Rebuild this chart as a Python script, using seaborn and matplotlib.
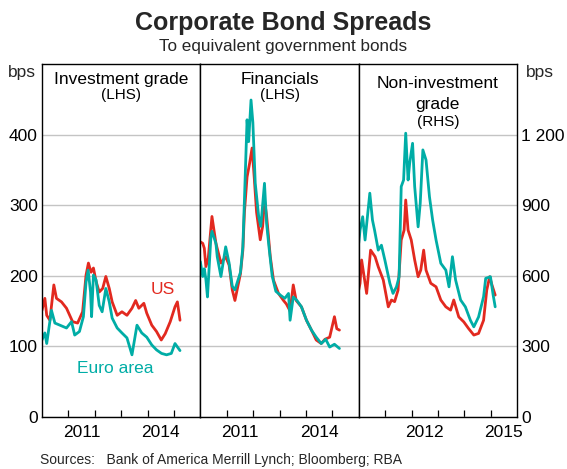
import matplotlib
matplotlib.use("Agg")
import matplotlib.pyplot as plt
import seaborn as sns

sns.set_theme(style="white")
plt.rcParams["font.family"] = ["Liberation Sans", "DejaVu Sans"]

RED = "#E2291F"
TEAL = "#00ADA6"

# Investment grade (LHS, bps)
ig_us_t = [2010.0, 2010.11, 2010.18, 2010.30, 2010.45, 2010.55, 2010.74, 2010.93,
           2011.16, 2011.35, 2011.54, 2011.67, 2011.76, 2011.86, 2011.95, 2012.05,
           2012.17, 2012.30, 2012.42, 2012.55, 2012.66, 2012.85, 2013.03, 2013.22,
           2013.41, 2013.55, 2013.67, 2013.86, 2013.97, 2014.16, 2014.34, 2014.52,
           2014.67, 2014.86, 2015.04, 2015.13, 2015.23]
ig_us = [151, 168, 144, 137, 187, 168, 163, 154,
         135, 133, 149, 201, 218, 205, 211, 192,
         177, 182, 199, 182, 163, 144, 149, 144,
         154, 165, 154, 161, 147, 130, 121, 109,
         118, 135, 156, 163, 137]
ig_eu_t = [2010.0, 2010.11, 2010.18, 2010.36, 2010.49, 2010.68, 2010.93, 2011.12,
           2011.24, 2011.42, 2011.57, 2011.67, 2011.75, 2011.84, 2011.88, 2011.95,
           2012.05, 2012.17, 2012.28, 2012.42, 2012.55, 2012.66, 2012.85, 2013.03,
           2013.22, 2013.41, 2013.60, 2013.78, 2013.97, 2014.16, 2014.34, 2014.53,
           2014.72, 2014.90, 2015.04, 2015.23]
ig_eu = [109, 119, 104, 151, 133, 130, 126, 135,
         116, 121, 142, 191, 208, 177, 142, 201,
         194, 158, 149, 182, 163, 140, 126, 119,
         112, 88, 130, 119, 113, 102, 95, 90,
         88, 90, 104, 94]

# Financials (LHS, bps)
fin_us_t = [2010.0, 2010.09, 2010.15, 2010.21, 2010.30, 2010.44, 2010.59, 2010.78,
            2010.96, 2011.09, 2011.21, 2011.31, 2011.52, 2011.61, 2011.67, 2011.77,
            2011.87, 2011.96, 2012.04, 2012.13, 2012.27, 2012.36, 2012.43, 2012.51,
            2012.65, 2012.77, 2012.96, 2013.15, 2013.26, 2013.40, 2013.52, 2013.63,
            2013.83, 2014.02, 2014.21, 2014.39, 2014.58, 2014.72, 2014.90, 2015.08,
            2015.17, 2015.27]
fin_us = [248, 246, 239, 213, 225, 284, 246, 218,
          227, 215, 180, 165, 203, 236, 290, 340,
          360, 381, 340, 290, 251, 270, 307, 285,
          227, 194, 175, 165, 160, 150, 187, 165,
          156, 137, 123, 109, 104, 110, 113, 142,
          125, 123]
fin_eu_t = [2010.0, 2010.09, 2010.15, 2010.21, 2010.27, 2010.40, 2010.44, 2010.59,
            2010.64, 2010.78, 2010.96, 2011.09, 2011.21, 2011.31, 2011.52, 2011.61,
            2011.67, 2011.77, 2011.83, 2011.92, 2011.99, 2012.08, 2012.21, 2012.29,
            2012.43, 2012.51, 2012.60, 2012.72, 2012.86, 2013.05, 2013.20, 2013.34,
            2013.40, 2013.52, 2013.66, 2013.83, 2014.02, 2014.21, 2014.39, 2014.58,
            2014.75, 2014.90, 2015.08, 2015.27]
fin_eu = [220, 199, 210, 195, 170, 255, 263, 246,
          227, 199, 241, 218, 185, 180, 205, 241,
          307, 421, 390, 449, 417, 331, 284, 270,
          331, 274, 241, 200, 178, 172, 168, 175,
          137, 170, 165, 156, 137, 123, 113, 104,
          110, 99, 103, 97]

# Non-investment grade (RHS, bps)
ni_us_t = [2010.0, 2010.05, 2010.11, 2010.30, 2010.45, 2010.62, 2010.74, 2010.93,
           2011.12, 2011.24, 2011.36, 2011.49, 2011.61, 2011.72, 2011.78, 2011.87,
           2011.99, 2012.12, 2012.25, 2012.35, 2012.46, 2012.55, 2012.73, 2012.93,
           2013.11, 2013.30, 2013.48, 2013.60, 2013.79, 2013.98, 2014.16, 2014.36,
           2014.54, 2014.73, 2014.85, 2014.96, 2015.05, 2015.17]
ni_us = [540, 568, 667, 525, 709, 681, 638, 582,
         468, 497, 490, 539, 752, 794, 922, 794,
         752, 667, 596, 624, 709, 624, 568, 553,
         497, 468, 454, 497, 425, 404, 376, 348,
         355, 411, 539, 596, 560, 518]
ni_eu_t = [2010.0, 2010.05, 2010.15, 2010.24, 2010.42, 2010.52, 2010.60, 2010.74,
           2010.86, 2010.99, 2011.18, 2011.30, 2011.43, 2011.53, 2011.61, 2011.70,
           2011.78, 2011.87, 2011.93, 2012.04, 2012.12, 2012.25, 2012.33, 2012.43,
           2012.55, 2012.68, 2012.80, 2012.93, 2013.11, 2013.30, 2013.42, 2013.55,
           2013.67, 2013.86, 2014.04, 2014.23, 2014.36, 2014.54, 2014.73, 2014.81,
           2014.99, 2015.09, 2015.17]
ni_eu = [739, 794, 851, 752, 951, 837, 794, 709,
         730, 667, 568, 525, 553, 596, 979, 1007,
         1206, 1007, 1078, 1163, 979, 808, 908, 1135,
         1092, 936, 837, 752, 653, 624, 553, 681,
         582, 497, 468, 411, 383, 425, 511, 589,
         596, 520, 468]

panel_titles = [("Investment grade", "(LHS)"), ("Financials", "(LHS)"),
                ("Non-investment\ngrade", "(RHS)")]
year_labels = [["2011", "2014"], ["2011", "2014"], ["2012", "2015"]]
lhs_ticks = [0, 100, 200, 300, 400]
rhs_ticks = [0, 300, 600, 900, 1200]
rhs_labels = ["0", "300", "600", "900", "1 200"]

FS = 12.5

fig = plt.figure(figsize=(5.67, 4.69), dpi=100)
axes = fig.subplots(1, 3)
fig.subplots_adjust(left=0.074, right=0.912, top=0.8635, bottom=0.111, wspace=0)

series = [(ig_us_t, ig_us, ig_eu_t, ig_eu),
          (fin_us_t, fin_us, fin_eu_t, fin_eu),
          (ni_us_t, ni_us, ni_eu_t, ni_eu)]

for i, ax in enumerate(axes):
    us_t, us_v, eu_t, eu_v = series[i]
    sns.lineplot(x=us_t, y=us_v, ax=ax, color=RED, lw=2.0, estimator=None, sort=False)
    sns.lineplot(x=eu_t, y=eu_v, ax=ax, color=TEAL, lw=2.0, estimator=None, sort=False)
    ax.set_xlim(2010, 2016)
    ax.set_xticks([2011, 2012, 2013, 2014, 2015])
    ax.set_xticklabels([])
    ax.tick_params(axis="x", which="major", direction="in", length=5, width=0.9,
                   color="black", bottom=True)
    first = int(year_labels[i][0])
    ax.set_xticks([first + 0.5, first + 3.5], minor=True)
    ax.set_xticklabels(year_labels[i], minor=True)
    ax.tick_params(axis="x", which="minor", length=0, labelsize=FS, pad=5.5,
                   labelcolor="black")
    if i < 2:
        ax.set_ylim(0, 500)
        ax.set_yticks(lhs_ticks)
    else:
        ax.set_ylim(0, 1500)
        ax.set_yticks(rhs_ticks)
    ax.yaxis.grid(True, color="#C4C4C4", lw=1.0)
    ax.xaxis.grid(False)
    ax.set_axisbelow(True)
    for sp in ax.spines.values():
        sp.set_color("black")
        sp.set_linewidth(1.0)
    ax.set_xlabel("")
    ax.set_ylabel("")

    main, sub = panel_titles[i]
    if i < 2:
        ax.text(0.5, 0.955, main, transform=ax.transAxes, ha="center", va="center",
                fontsize=FS, color="black")
        ax.text(0.5, 0.912, sub, transform=ax.transAxes, ha="center", va="center",
                fontsize=11, color="black")
    else:
        ax.text(0.5, 0.946, "Non-investment", transform=ax.transAxes, ha="center",
                va="center", fontsize=FS, color="black")
        ax.text(0.5, 0.884, "grade", transform=ax.transAxes, ha="center",
                va="center", fontsize=FS, color="black")
        ax.text(0.5, 0.837, sub, transform=ax.transAxes, ha="center", va="center",
                fontsize=11, color="black")

axes[0].tick_params(axis="y", length=0, labelsize=FS, pad=3, labelcolor="black")
axes[1].tick_params(axis="y", left=False, labelleft=False, length=0)
axes[2].yaxis.tick_right()
axes[2].set_yticklabels(rhs_labels)
axes[2].tick_params(axis="y", length=0, labelsize=FS, pad=3, labelcolor="black",
                    left=False, labelleft=False, right=True, labelright=True)

axes[0].text(2014.57, 180, "US", color=RED, fontsize=FS, ha="center", va="center")
axes[0].text(2012.77, 69, "Euro area", color=TEAL, fontsize=FS, ha="center", va="center")

fig.text(22 / 567, 1 - 73 / 469, "bps", fontsize=FS, ha="center", va="center")
fig.text(540 / 567, 1 - 73 / 469, "bps", fontsize=FS, ha="center", va="center")

fig.text(0.5, 1 - 23 / 469, "Corporate Bond Spreads", fontsize=18, fontweight="bold",
         ha="center", va="center")
fig.text(0.5, 1 - 47 / 469, "To equivalent government bonds", fontsize=12.3,
         ha="center", va="center")
fig.text(40 / 567, 1 - 460 / 469, "Sources:   Bank of America Merrill Lynch; Bloomberg; RBA",
         fontsize=10, ha="left", va="center")

fig.savefig("out.png", dpi=100)
